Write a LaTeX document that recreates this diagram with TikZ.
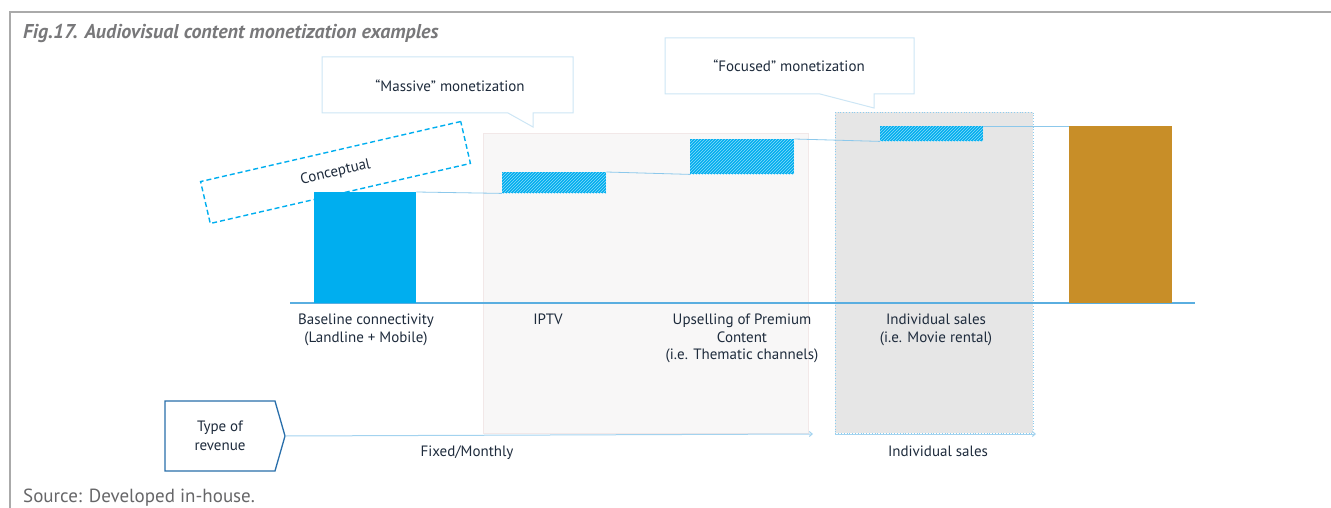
\documentclass[tikz,border=0pt]{standalone}
\usepackage{fontspec}
\setmainfont{PT Sans}
\usetikzlibrary{patterns,arrows.meta,shapes.symbols}
\definecolor{cyanbar}{RGB}{0,174,239}
\definecolor{goldbar}{RGB}{200,142,40}
\definecolor{navy}{RGB}{30,43,60}
\definecolor{frame}{RGB}{170,170,170}
\definecolor{titlegray}{RGB}{120,120,122}
\definecolor{lightline}{RGB}{205,230,245}
\definecolor{axisblue}{RGB}{90,174,224}
\definecolor{linkblue}{RGB}{140,200,235}
\definecolor{panelA}{RGB}{248,247,247}
\definecolor{panelAb}{RGB}{242,232,232}
\definecolor{panelB}{RGB}{230,230,230}
\definecolor{panelBb}{RGB}{140,205,240}
\definecolor{revblue}{RGB}{40,110,170}
\tikzset{
  lbl/.style={text=navy, font=\fontsize{15}{17.5}\selectfont, align=center, inner sep=0pt, anchor=north},
  solidbar/.style={inner sep=0pt, anchor=north west},
  hatchbar/.style={inner sep=0pt, anchor=north west, fill=cyanbar,
     postaction={pattern=north east lines, pattern color=white!55!cyanbar}},
  link/.style={draw=linkblue, line width=0.8pt},
  calloutbox/.style={draw=lightline, line width=1pt, fill=white},
  revarrow/.style={draw=linkblue!80!white, line width=1pt, -{Straight Barb[length=3pt,width=5pt]}},
}
\begin{document}
\begin{tikzpicture}[x=1pt,y=-1pt]
\useasboundingbox (0,0) rectangle (1331,508);
% frame
\draw[frame, line width=2pt] (10,508) -- (10,12) -- (1331,12);
\node[anchor=base west, inner sep=0pt, text=titlegray, font=\fontsize{20}{23}\selectfont\bfseries\itshape] (title) at (23,39) {Fig.17. Audiovisual content monetization examples};
\node[anchor=base west, inner sep=0pt, text=titlegray!85!black, font=\fontsize{19}{22}\selectfont] (source) at (23,502) {Source: Developed in-house.};

% panels
\node[solidbar, fill=panelA, draw=panelAb, line width=0.6pt, minimum width=325pt, minimum height=300pt] (panelfixed) at (483,133) {};
\node[solidbar, fill=panelB, draw=panelBb, dotted, line width=0.8pt, minimum width=198pt, minimum height=321pt] (panelind) at (835,112) {};

% callouts
\draw[calloutbox] (322,57) -- (573,57) -- (573,113) -- (533,113) -- (533,127) -- (508,113) -- (322,113) -- cycle;
\node[text=navy, font=\fontsize{15}{17}\selectfont] (massive) at (450,86) {“Massive” monetization};
\draw[calloutbox] (665,38) -- (914,38) -- (914,94) -- (874,94) -- (874,108) -- (820,94) -- (665,94) -- cycle;
\node[text=navy, font=\fontsize{15}{17}\selectfont] (focused) at (789,66) {“Focused” monetization};

% conceptual
\node[draw=cyanbar, dash pattern=on 5pt off 3pt, line width=1.4pt, rotate=13, minimum width=267pt, minimum height=43pt, inner sep=0pt, text=navy, font=\fontsize{15}{17}\selectfont] (concept) at (335.5,172.5) {Conceptual};

% axis
\coordinate (axL) at (290,303);
\coordinate (axR) at (1195,303);
\draw[axisblue, line width=1.2pt] (axL) -- (axR);

% bars
\node[solidbar, fill=cyanbar, minimum width=102pt, minimum height=111pt] (base) at (314,192) {};
\node[hatchbar, minimum width=104pt, minimum height=21pt] (iptv) at (502,172) {};
\node[hatchbar, minimum width=104pt, minimum height=35pt] (upsell) at (690,139) {};
\node[hatchbar, minimum width=103pt, minimum height=15pt] (indiv) at (880,126) {};
\node[solidbar, fill=goldbar, minimum width=103pt, minimum height=177pt] (gold) at (1069,126) {};

% links
\draw[link] (base.north east) -- (iptv.south west);
\draw[link] (iptv.north east) -- (upsell.south west);
\draw[link] (upsell.north east) -- (indiv.south west);
\draw[link] (indiv.north east) -- (gold.north west);

% labels
\node[lbl] (lbase) at (366,314) {Baseline connectivity\\(Landline + Mobile)};
\node[lbl] (liptv) at (548,314) {IPTV};
\node[lbl] (lupsell) at (742,314) {Upselling of Premium\\Content\\(i.e. Thematic channels)};
\node[lbl] (lindiv) at (936,314) {Individual sales\\(i.e. Movie rental)};

% type of revenue
\node[signal, signal to=east, signal pointer angle=148, draw=revblue, line width=1.3pt, fill=white, minimum width=120pt, minimum height=70pt, inner sep=0pt, text=navy, font=\fontsize{15}{19}\selectfont, align=center] (rev) at (220,436) {Type of\\revenue};
\coordinate (fixedEnd) at (813,434);
\coordinate (indStart) at (835,434);
\coordinate (indEnd) at (1036,434);
\draw[revarrow] (rev.east) -- (fixedEnd);
\draw[revarrow] (indStart) -- (indEnd);
\node[lbl] (lfixed) at (467,446) {Fixed/Monthly};
\node[lbl] (lindsales) at (938,446) {Individual sales};
\end{tikzpicture}
\end{document}
